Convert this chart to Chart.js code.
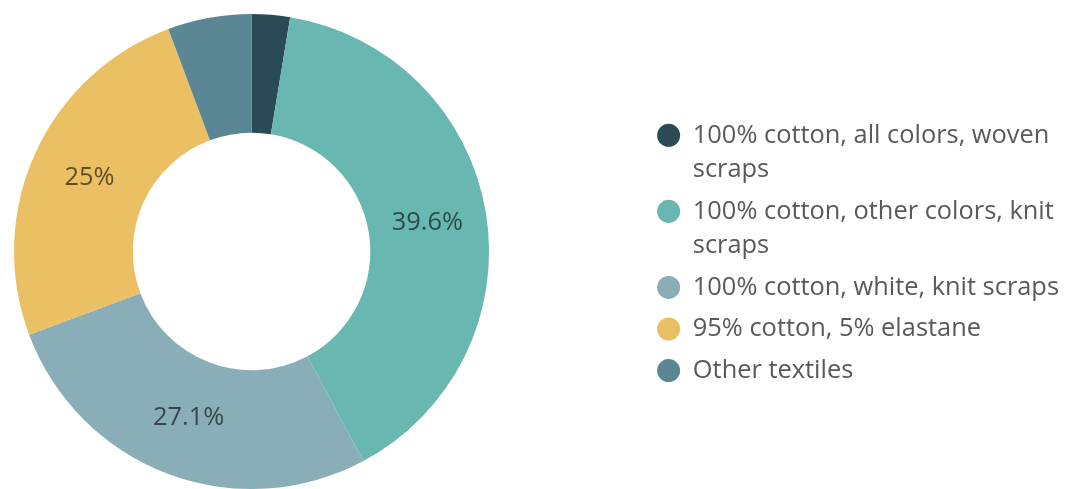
<!DOCTYPE html>
<html><head><meta charset="utf-8">
<script src="https://cdn.jsdelivr.net/npm/chart.js@4.4.1/dist/chart.umd.min.js"></script>
<style>
html,body{margin:0;padding:0;background:#fff;overflow:hidden;}
#clip{width:1069px;height:489px;overflow:hidden;position:relative;}
#wrap{width:1216px;height:489px;position:absolute;left:-147px;top:0;}
</style>
</head><body><div id="clip"><div id="wrap"><canvas id="c"></canvas></div></div>
<script>
const categories = [
  ["100% cotton, all colors, woven", "scraps"],
  ["100% cotton, other colors, knit", "scraps"],
  ["100% cotton, white, knit scraps"],
  ["95% cotton, 5% elastane"],
  ["Other textiles"]
];
const shares = [2.6, 39.6, 27.1, 25, 5.7];
const sliceColors = ['#2a4b55', '#69b7b1', '#8aaeb8', '#ebbf63', '#5b8694'];

const FONT = '"Open Sans", "Noto Sans", sans-serif';

const sliceLabels = {
  id: 'sliceLabels',
  afterDatasetsDraw(chart) {
    const ctx = chart.ctx;
    const meta = chart.getDatasetMeta(0);
    const ds = chart.data.datasets[0];
    ctx.save();
    ctx.font = '25.4px ' + FONT;
    ctx.fillStyle = 'rgba(0,0,0,0.6)';
    ctx.textAlign = 'center';
    ctx.textBaseline = 'middle';
    meta.data.forEach((arc, i) => {
      const v = ds.data[i];
      if (v < 10) return;
      const p = arc.getCenterPoint();
      ctx.fillText(v + '%', p.x, p.y);
    });
    ctx.restore();
  }
};

new Chart(document.getElementById('c'), {
  type: 'doughnut',
  data: {
    labels: categories,
    datasets: [{
      data: shares,
      backgroundColor: sliceColors,
      borderWidth: 0
    }]
  },
  options: {
    responsive: true,
    maintainAspectRatio: false,
    animation: false,
    cutout: '50%',
    layout: { padding: { left: 0, top: 14, bottom: 0, right: 0 } },
    plugins: {
      legend: {
        position: 'right',
        align: 'center',
        title: { display: true, text: '', padding: 0, font: { size: 10, lineHeight: 1.2 } },
        labels: {
          usePointStyle: true,
          pointStyle: 'circle',
          boxHeight: 16.3,
          pointStyleWidth: 23,
          padding: 7,
          color: '#595959',
          font: { family: FONT, size: 25.4, lineHeight: 1.36 }
        }
      },
      tooltip: { enabled: false }
    }
  },
  plugins: [sliceLabels]
});
</script>
</body></html>
